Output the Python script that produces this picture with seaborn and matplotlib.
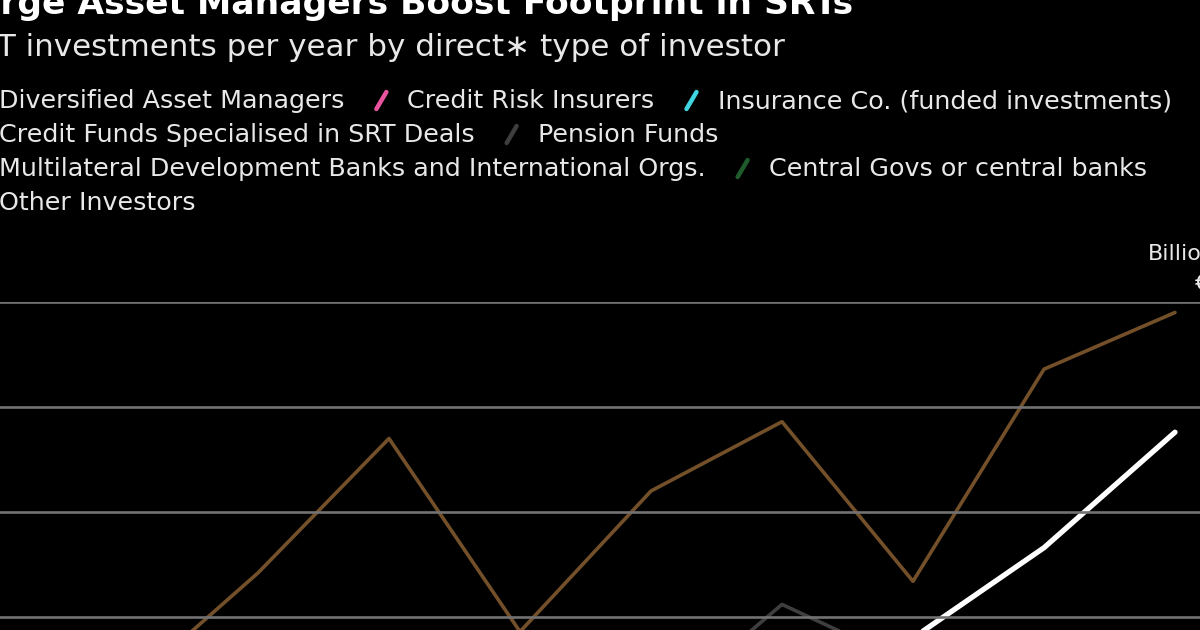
import pandas as pd
import seaborn as sns
import matplotlib.pyplot as plt
from matplotlib.lines import Line2D

# SRT investments per year, billions of euros
years = [2016, 2017, 2018, 2019, 2020, 2021, 2022, 2023, 2024]
diversified_asset_managers = [1.2, 1.5, 1.9, 2.2, 2.6, 3.1, 4.0, 8.3, 13.8]
credit_funds_srt = [1.6, 7.1, 13.5, 4.3, 11.0, 14.3, 6.7, 16.8, 19.5]
pension_funds = [0.2, 0.3, 0.3, 0.4, 0.3, 5.6, 2.7, 1.6, 2.1]
credit_risk_insurers = [0.1, 0.2, 0.4, 0.6, 0.9, 1.4, 1.8, 2.2, 2.6]
insurance_funded = [0.3, 0.4, 0.5, 0.6, 0.8, 1.0, 1.3, 1.6, 2.0]
multilateral_banks = [0.8, 1.0, 1.3, 1.1, 1.6, 1.9, 1.5, 2.0, 2.3]
central_govs = [0.0, 0.0, 0.1, 0.1, 0.3, 0.2, 0.1, 0.2, 0.1]
other_investors = [0.4, 0.6, 0.9, 0.7, 1.0, 1.4, 1.2, 1.5, 1.7]

legend_rows = [
    ["Diversified Asset Managers", "Credit Risk Insurers", "Insurance Co. (funded investments)"],
    ["Credit Funds Specialised in SRT Deals", "Pension Funds"],
    ["Multilateral Development Banks and International Orgs.", "Central Govs or central banks"],
    ["Other Investors"],
]

series = {
    "Diversified Asset Managers": diversified_asset_managers,
    "Credit Risk Insurers": credit_risk_insurers,
    "Insurance Co. (funded investments)": insurance_funded,
    "Credit Funds Specialised in SRT Deals": credit_funds_srt,
    "Pension Funds": pension_funds,
    "Multilateral Development Banks and International Orgs.": multilateral_banks,
    "Central Govs or central banks": central_govs,
    "Other Investors": other_investors,
}

colors = {
    "Diversified Asset Managers": "#ffffff",
    "Credit Risk Insurers": "#e8559e",
    "Insurance Co. (funded investments)": "#3fd6e2",
    "Credit Funds Specialised in SRT Deals": "#735029",
    "Pension Funds": "#3e3e3e",
    "Multilateral Development Banks and International Orgs.": "#8e7cc3",
    "Central Govs or central banks": "#1f5c2c",
    "Other Investors": "#b58b2a",
}
widths = {k: 2.6 for k in series}
widths["Diversified Asset Managers"] = 3.8

df = pd.DataFrame({"year": years, **series}).melt(
    id_vars="year", var_name="investor", value_name="value")

sns.set_theme(style="dark")
plt.rcParams["font.family"] = ["DejaVu Sans"]

W, H = 1200, 630
fig = plt.figure(figsize=(12, 6.3), dpi=100, facecolor="black")

# plot area: 2015..2024.2 across, 0..20 bn up; partly outside the frame
ax = fig.add_axes([-4 / W, 1 - 722 / H, 9.2 * 131 / W, 420 / H])
ax.set_facecolor("black")
order = ["Central Govs or central banks", "Other Investors",
         "Multilateral Development Banks and International Orgs.",
         "Insurance Co. (funded investments)", "Credit Risk Insurers",
         "Pension Funds", "Credit Funds Specialised in SRT Deals",
         "Diversified Asset Managers"]
sns.lineplot(data=df, x="year", y="value", hue="investor", hue_order=order,
             palette=colors, size="investor", sizes=widths, legend=False, ax=ax)
ax.set_xlim(2015, 2024.2)
ax.set_ylim(0, 20)
ax.set_yticks([0, 5, 10, 15, 20])
ax.yaxis.grid(True, color="#727272", lw=1.9)
ax.xaxis.grid(False)
ax.set_axisbelow(False)
for s in ax.spines.values():
    s.set_visible(False)
ax.set_xlabel("")
ax.set_ylabel("")
ax.tick_params(labelleft=False, labelbottom=False, length=0)

fig.canvas.draw()
r = fig.canvas.get_renderer()


def prefix_width(txt, **kw):
    t = fig.text(0, 0, txt, **kw)
    w = t.get_window_extent(r).width
    t.remove()
    return w


title_kw = dict(fontsize=24.8, fontweight="bold", color="white")
fig.text(-prefix_width("La", **title_kw) / W, 1 - 14 / H,
         "Large Asset Managers Boost Footprint in SRTs", va="baseline", **title_kw)
sub_kw = dict(fontsize=22.3, color="#e8e8e8")
fig.text((-1 - prefix_width("SR", **sub_kw)) / W, 1 - 56 / H,
         "SRT investments per year by direct\u2217 type of investor", va="baseline", **sub_kw)

for i, row in enumerate(legend_rows):
    base = 108 + 34 * i
    x = -1
    for j, name in enumerate(row):
        if j:
            x += 63
        mc = x - 26
        fig.add_artist(Line2D([(mc - 5) / W, (mc + 5) / W], [1 - (base + 1) / H, 1 - (base - 16) / H],
                              transform=fig.transFigure, color=colors[name], lw=3.2,
                              solid_capstyle="round"))
        t = fig.text(x / W, 1 - base / H, name, fontsize=18.3, color="#e8e8e8", va="baseline")
        x = t.get_window_extent(r).x1

fig.text(1148 / W, 1 - 260 / H, "Billions", fontsize=16, color="#e8e8e8", va="baseline")
fig.text(1195 / W, 1 - 290 / H, "\u20ac", fontsize=16, color="#e8e8e8", va="baseline")

plt.savefig("out.png", dpi=100, facecolor="black")
